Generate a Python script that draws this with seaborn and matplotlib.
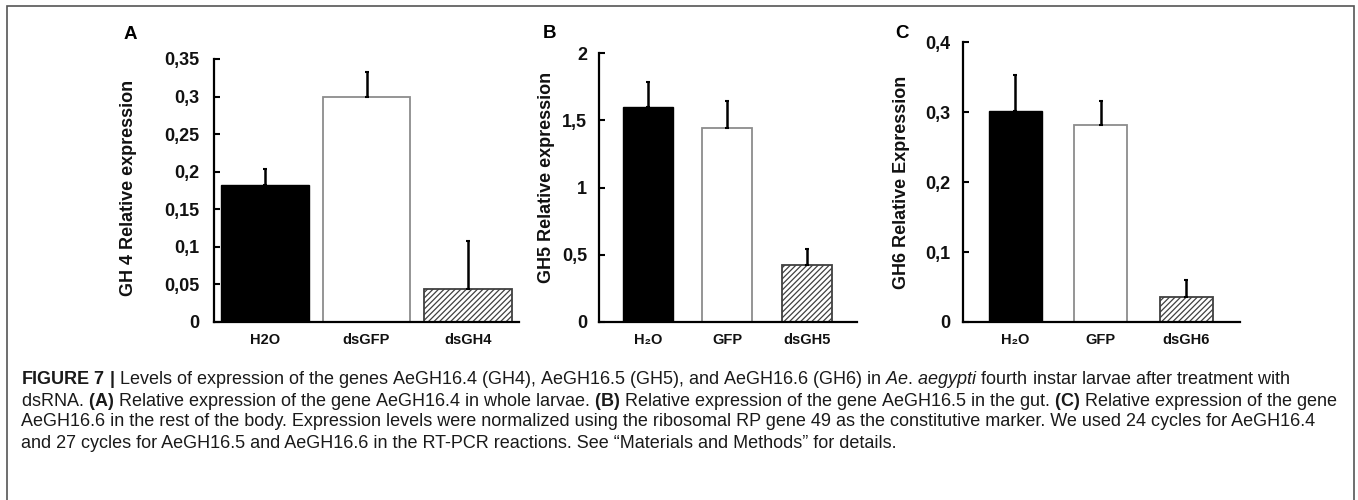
import matplotlib
matplotlib.use("Agg")
import matplotlib.pyplot as plt
import seaborn as sns
import pandas as pd
from matplotlib.patches import Rectangle

sns.set_theme(style="white")
plt.rcParams['font.family'] = ['Liberation Sans', 'DejaVu Sans']
plt.rcParams['mathtext.fontset'] = 'custom'
plt.rcParams['mathtext.rm'] = 'Liberation Sans'
plt.rcParams['mathtext.bf'] = 'Liberation Sans:bold'
plt.rcParams['mathtext.it'] = 'Liberation Sans:italic'
plt.rcParams['hatch.linewidth'] = 0.9

# ---------------- data ----------------
cats_a = ["H2O", "dsGFP", "dsGH4"]
vals_a = [0.182, 0.299, 0.044]
err_a = [0.021, 0.034, 0.064]
yticks_a = [0, 0.05, 0.10, 0.15, 0.20, 0.25, 0.30, 0.35]
ytick_labels_a = ["0", "0,05", "0,1", "0,15", "0,2", "0,25", "0,3", "0,35"]
ylabel_a = "GH 4 Relative expression"

cats_b = ["H\u2082O", "GFP", "dsGH5"]
vals_b = [1.595, 1.44, 0.424]
err_b = [0.19, 0.20, 0.12]
yticks_b = [0, 0.5, 1.0, 1.5, 2.0]
ytick_labels_b = ["0", "0,5", "1", "1,5", "2"]
ylabel_b = "GH5 Relative expression"

cats_c = ["H\u2082O", "GFP", "dsGH6"]
vals_c = [0.302, 0.282, 0.036]
err_c = [0.051, 0.034, 0.024]
yticks_c = [0, 0.1, 0.2, 0.3, 0.4]
ytick_labels_c = ["0", "0,1", "0,2", "0,3", "0,4"]
ylabel_c = "GH6 Relative Expression"

panel_letters = ["A", "B", "C"]

caption_lines = [
    r"$\mathbf{FIGURE\ 7\ |}$ Levels of expression of the genes AeGH16.4 (GH4), AeGH16.5 (GH5), and AeGH16.6 (GH6) in $\mathit{Ae.\,aegypti}$ fourth instar larvae after treatment with",
    r"dsRNA. $\mathbf{(A)}$ Relative expression of the gene AeGH16.4 in whole larvae. $\mathbf{(B)}$ Relative expression of the gene AeGH16.5 in the gut. $\mathbf{(C)}$ Relative expression of the gene",
    "AeGH16.6 in the rest of the body. Expression levels were normalized using the ribosomal RP gene 49 as the constitutive marker. We used 24 cycles for AeGH16.4",
    "and 27 cycles for AeGH16.5 and AeGH16.6 in the RT-PCR reactions. See \u201cMaterials and Methods\u201d for details.",
]

# ---------------- layout ----------------
W, H = 1358, 500
fig = plt.figure(figsize=(W / 100, H / 100), dpi=100)
fig.patch.set_facecolor("white")

panels = [
    dict(cats=cats_a, vals=vals_a, err=err_a, yt=yticks_a, ytl=ytick_labels_a, yl=ylabel_a,
         box=(214, 519, 59), width=0.86, xlim=(-0.50, 2.50), pad=10.5,
         label_x=137, label_y=188, letter=(130, 34)),
    dict(cats=cats_b, vals=vals_b, err=err_b, yt=yticks_b, ytl=ytick_labels_b, yl=ylabel_b,
         box=(599, 857, 53), width=0.63, xlim=(-0.616, 2.63), pad=8.5,
         label_x=555, label_y=177, letter=(549, 33)),
    dict(cats=cats_c, vals=vals_c, err=err_c, yt=yticks_c, ytl=ytick_labels_c, yl=ylabel_c,
         box=(963, 1240, 42), width=0.62, xlim=(-0.614, 2.63), pad=9.0,
         label_x=910, label_y=182, letter=(902, 33)),
]

bottom_px = 322
face_colors = ["black", "white", "white"]
edge_colors = ["black", "#8c8c8c", "#404040"]
hatches = [None, None, "//////"]

for i, p in enumerate(panels):
    x0, x1, top = p["box"]
    ax = fig.add_axes([x0 / W, 1 - bottom_px / H, (x1 - x0) / W, (bottom_px - top) / H])
    df = pd.DataFrame({"cat": p["cats"], "val": p["vals"]})
    sns.barplot(data=df, x="cat", y="val", hue="cat", palette=face_colors,
                legend=False, width=p["width"], ax=ax, errorbar=None, saturation=1)
    for j, cont in enumerate(ax.containers):
        for bar in cont:
            bar.set_facecolor(face_colors[j])
            bar.set_edgecolor(edge_colors[j])
            bar.set_linewidth(1.3 if j else 1.0)
            if hatches[j]:
                bar.set_hatch(hatches[j])
    ax.errorbar(x=list(range(len(p["cats"]))), y=p["vals"],
                yerr=[[0] * len(p["err"]), p["err"]], fmt="none",
                ecolor="black", elinewidth=1.8, capsize=1.5, capthick=1.5, zorder=3)
    ax.set_xlim(*p["xlim"])
    ax.set_ylim(p["yt"][0], p["yt"][-1])
    ax.set_yticks(p["yt"])
    ax.set_yticklabels(p["ytl"], fontsize=13, fontweight="bold", color="#111")
    ax.set_xticks(range(len(p["cats"])))
    ax.set_xticklabels(p["cats"], fontsize=10.5, fontweight="bold", color="#111")
    ax.set_xlabel("")
    ax.set_ylabel("")
    for s in ["top", "right"]:
        ax.spines[s].set_visible(False)
    for s in ["left", "bottom"]:
        ax.spines[s].set_color("black")
        ax.spines[s].set_linewidth(1.6)
    ax.tick_params(axis="y", direction="in", length=4, width=1.5, color="black",
                   pad=p["pad"], left=True)
    ax.tick_params(axis="x", length=0, pad=8)
    ax.set_facecolor("white")
    fig.text(p["label_x"] / W, 1 - p["label_y"] / H, p["yl"], rotation=90,
             ha="right", va="center", fontsize=13, fontweight="bold", color="#111")
    lx, ly = p["letter"]
    fig.text(lx / W, 1 - ly / H, panel_letters[i], ha="center", va="center",
             fontsize=13.5, fontweight="bold", color="black")

# caption
cap_y = [379, 401, 422, 444]
for line, y in zip(caption_lines, cap_y):
    fig.text(21 / W, 1 - y / H, line, ha="left", va="center", fontsize=13,
             color="#1a1a1a")

# outer frame
fig.add_artist(Rectangle((7 / W, -0.05), (1354 - 7) / W, 1.05 - 6 / H,
                         transform=fig.transFigure, fill=False,
                         edgecolor="#555555", linewidth=1.2, clip_on=False))

fig.savefig("out.png", dpi=100, facecolor="white")
